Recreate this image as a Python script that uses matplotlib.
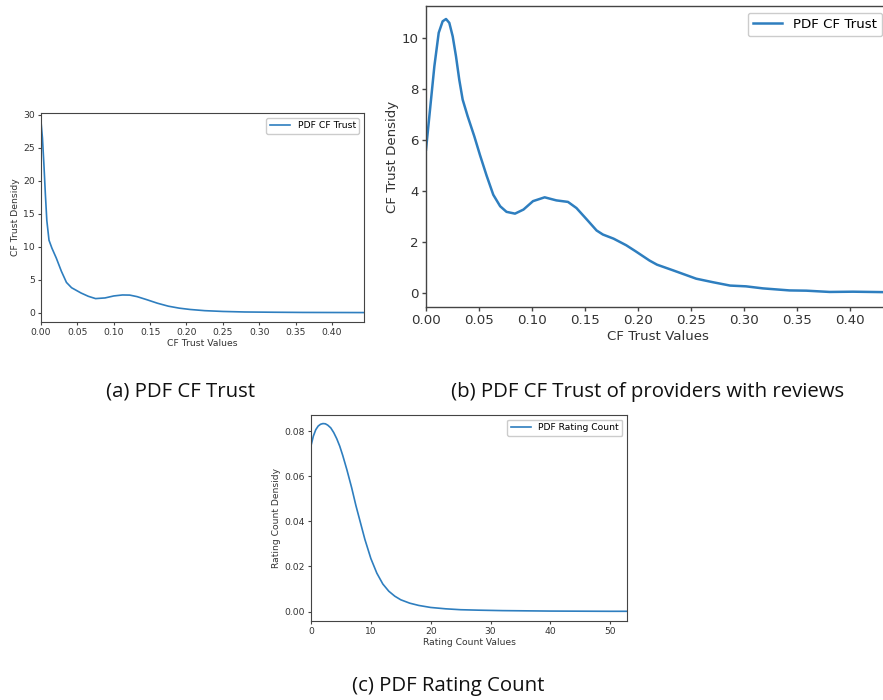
import matplotlib
matplotlib.use('Agg')
import matplotlib.pyplot as plt

# ** Datos **
# (a) PDF CF Trust
trust_x = [0.0, 0.002, 0.004, 0.006, 0.008, 0.011, 0.015, 0.021, 0.028, 0.035,
           0.042, 0.055, 0.065, 0.075, 0.088, 0.100, 0.112, 0.122, 0.132, 0.145,
           0.160, 0.175, 0.190, 0.205, 0.225, 0.250, 0.280, 0.320, 0.360, 0.400, 0.444]
trust_y = [29.0, 26.5, 22.5, 18.0, 14.0, 11.0, 9.8, 8.3, 6.3, 4.6,
           3.8, 3.0, 2.5, 2.15, 2.25, 2.55, 2.7, 2.68, 2.45, 2.0,
           1.45, 1.0, 0.7, 0.5, 0.32, 0.2, 0.12, 0.08, 0.05, 0.04, 0.03]

# (b) PDF CF Trust de proveedores con reviews
rev_x = [0.0, 0.0038, 0.0079, 0.012, 0.0157, 0.0189, 0.022, 0.0252, 0.0283, 0.0314,
         0.0346, 0.0393, 0.0456, 0.051, 0.0572, 0.0635, 0.070, 0.076, 0.084, 0.092,
         0.101, 0.112, 0.123, 0.134, 0.142, 0.152, 0.161, 0.167, 0.177, 0.189,
         0.198, 0.211, 0.218, 0.233, 0.243, 0.255, 0.271, 0.287, 0.302, 0.318,
         0.343, 0.359, 0.381, 0.403, 0.437]
rev_y = [5.62, 7.19, 8.89, 10.2, 10.65, 10.74, 10.59, 10.06, 9.28, 8.36,
         7.58, 6.93, 6.14, 5.4, 4.6, 3.85, 3.4, 3.18, 3.11, 3.27,
         3.6, 3.75, 3.63, 3.57, 3.33, 2.87, 2.45, 2.29, 2.13, 1.87,
         1.63, 1.27, 1.11, 0.89, 0.74, 0.56, 0.42, 0.29, 0.26, 0.18,
         0.10, 0.09, 0.04, 0.05, 0.03]

# (c) PDF Rating Count
count_x = [0.0, 0.4, 0.8, 1.2, 1.6, 2.0, 2.4, 2.8, 3.3, 3.8,
           4.3, 4.8, 5.3, 6.0, 6.8, 7.5, 8.3, 9.0, 10.0, 11.0,
           12.0, 13.0, 14.0, 15.0, 16.5, 18.0, 20.0, 22.5, 25.0, 28.0,
           32.0, 36.0, 40.0, 45.0, 50.0, 53.0]
count_y = [0.0735, 0.0778, 0.0806, 0.0822, 0.0830, 0.0833, 0.0832, 0.0826, 0.0814, 0.0793,
           0.0766, 0.0733, 0.0692, 0.0628, 0.0548, 0.0470, 0.0390, 0.0320, 0.0235, 0.0170,
           0.0122, 0.0090, 0.0068, 0.0052, 0.0037, 0.0027, 0.0018, 0.0012, 0.0008, 0.0006,
           0.0004, 0.0003, 0.0002, 0.00015, 0.0001, 0.0001]

trust_ticks = [0.0, 0.05, 0.10, 0.15, 0.20, 0.25, 0.30, 0.35, 0.40]
count_ticks = [0, 10, 20, 30, 40, 50]

linea = '#2e7ebf'
texto = '#333333'

W, H = 883, 700
fig = plt.figure(figsize=(W / 100, H / 100), dpi=100)


def caja(x0, y0, x1, y1):
    # convierte pixeles (origen arriba-izquierda) a fraccion de figura
    return [x0 / W, 1 - y1 / H, (x1 - x0) / W, (y1 - y0) / H]


def estilo(ax, fs, lw_spine, tick_len):
    for s in ax.spines.values():
        s.set_color('#444444')
        s.set_linewidth(lw_spine)
    ax.tick_params(labelsize=fs, colors='#444444', labelcolor=texto,
                   length=tick_len, width=lw_spine, pad=2)


# ** Grafico (a) **
ax1 = fig.add_axes(caja(41, 113, 364, 322))
ax1.plot(trust_x, trust_y, color=linea, lw=1.2, label='PDF CF Trust')
ax1.set_xlim(0, 0.444)
ax1.set_ylim(-1.4, 30.3)
ax1.set_xticks(trust_ticks)
ax1.set_xticklabels([f'{t:.2f}' for t in trust_ticks])
ax1.set_yticks([0, 5, 10, 15, 20, 25, 30])
estilo(ax1, 6.7, 0.8, 2.5)
ax1.set_xlabel('CF Trust Values', fontsize=6.7, color=texto, labelpad=1)
ax1.set_ylabel('CF Trust Densidy', fontsize=6.7, color=texto, labelpad=2)
ax1.legend(loc='upper right', fontsize=6.7, handlelength=2.2, borderaxespad=0.5,
           fancybox=True, framealpha=1)

# ** Grafico (b) **
ax2 = fig.add_axes(caja(426, 6, 889, 307))
ax2.plot(rev_x, rev_y, color=linea, lw=1.8, label='PDF CF Trust')
ax2.set_xlim(0, 0.437)
ax2.set_ylim(-0.55, 11.25)
ax2.set_xticks(trust_ticks)
ax2.set_xticklabels([f'{t:.2f}' for t in trust_ticks])
ax2.set_yticks([0, 2, 4, 6, 8, 10])
estilo(ax2, 9.6, 1.0, 3.2)
ax2.set_xlabel('CF Trust Values', fontsize=9.6, color=texto, labelpad=2)
ax2.set_ylabel('CF Trust Densidy', fontsize=9.6, color=texto, labelpad=2)
ax2.legend(loc='upper right', fontsize=9.6, handlelength=2.2, borderaxespad=0.5,
           fancybox=True, framealpha=1)

# ** Grafico (c) **
ax3 = fig.add_axes(caja(311, 415, 627, 621))
ax3.plot(count_x, count_y, color=linea, lw=1.2, label='PDF Rating Count')
ax3.set_xlim(0, 52.8)
ax3.set_ylim(-0.0042, 0.0871)
ax3.set_xticks(count_ticks)
ax3.set_yticks([0.0, 0.02, 0.04, 0.06, 0.08])
ax3.set_yticklabels(['0.00', '0.02', '0.04', '0.06', '0.08'])
estilo(ax3, 6.6, 0.8, 2.5)
ax3.set_xlabel('Rating Count Values', fontsize=6.6, color=texto, labelpad=1)
ax3.set_ylabel('Rating Count Densidy', fontsize=6.6, color=texto, labelpad=2)
ax3.legend(loc='upper right', fontsize=6.6, handlelength=2.2, borderaxespad=0.5,
           fancybox=True, framealpha=1)

# ** Subtitulos **
cap = dict(fontsize=14.7, family='Open Sans', color='#111111', ha='center', va='baseline')
fig.text(181 / W, 1 - 397 / H, '(a) PDF CF Trust', **cap)
fig.text(648 / W, 1 - 397 / H, '(b) PDF CF Trust of providers with reviews', **cap)
fig.text(448 / W, 1 - 691 / H, '(c) PDF Rating Count', **cap)

fig.savefig('out.png', dpi=100)
